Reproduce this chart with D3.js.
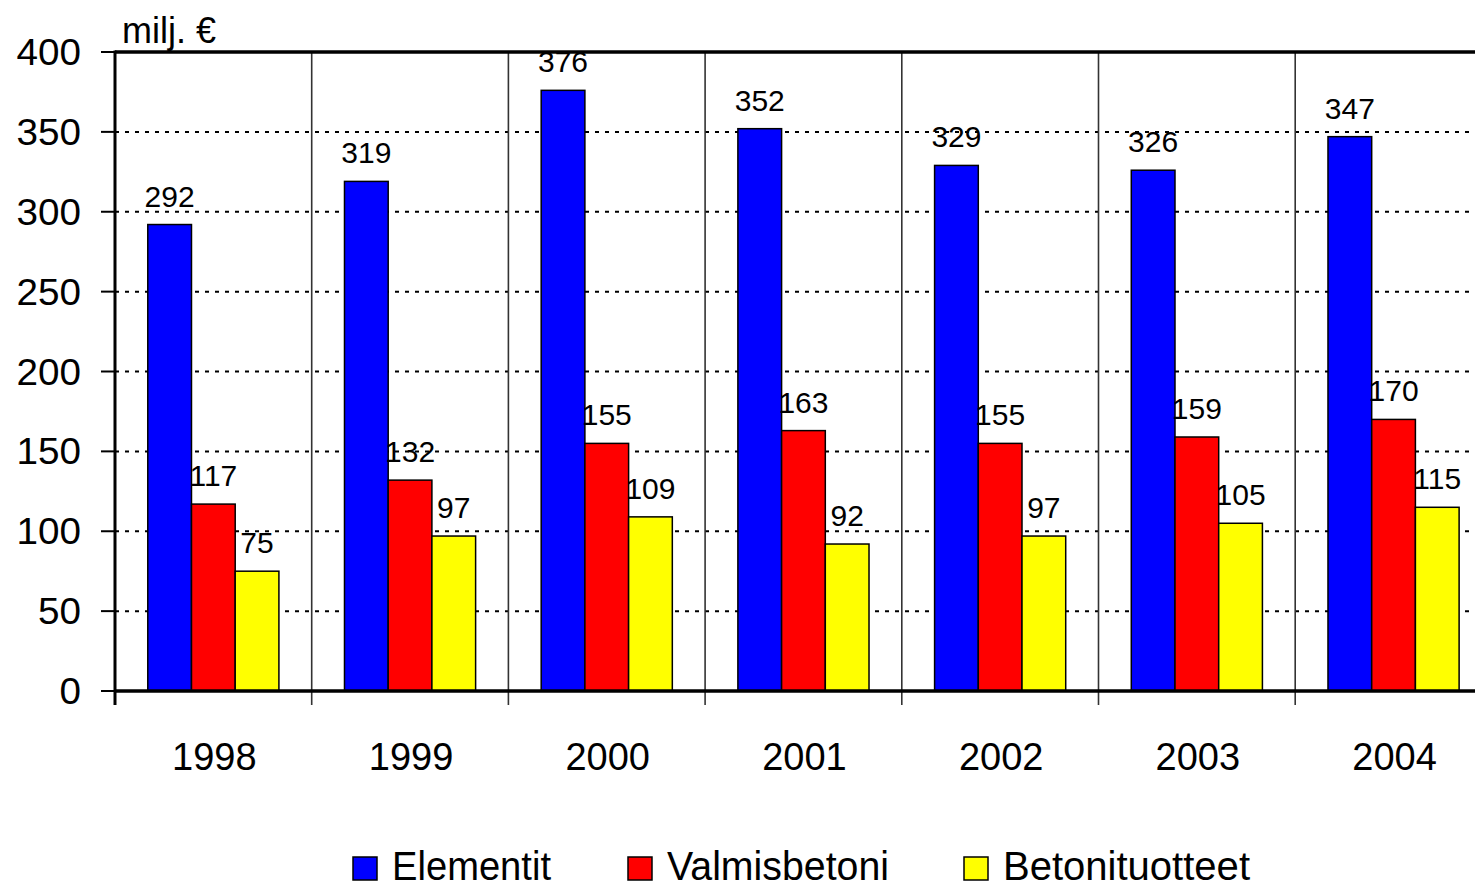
<!DOCTYPE html>
<html>
<head>
<meta charset="utf-8">
<script src="https://cdn.jsdelivr.net/npm/d3@7"></script>
<style>
  body { margin: 0; background: #fff; }
  svg { display: block; font-family: "Liberation Sans", Arial, sans-serif; }
</style>
</head>
<body>
<div id="chart"></div>
<script>
// data
const years = ["1998", "1999", "2000", "2001", "2002", "2003", "2004"];
const seriesNames = ["Elementit", "Valmisbetoni", "Betonituotteet"];
const elementit = [292, 319, 376, 352, 329, 326, 347];
const valmisbetoni = [117, 132, 155, 163, 155, 159, 170];
const betonituotteet = [75, 97, 109, 92, 97, 105, 115];
const yTicks = [0, 50, 100, 150, 200, 250, 300, 350, 400];
const colors = ["#0000ff", "#ff0000", "#ffff00"];

const svgWidth = 1475;
const svgHeight = 889;

const margin = { top: 52, left: 115 };
const plotBottom = 691;
const bandWidth = 196.7;

const svg = d3.select("#chart")
    .append("svg")
    .attr("width", svgWidth)
    .attr("height", svgHeight);

const xScale = d3.scaleBand()
    .domain(years)
    .range([margin.left, margin.left + bandWidth * years.length])
    .paddingInner(0)
    .paddingOuter(0);

const xInner = d3.scaleBand()
    .domain(seriesNames)
    .range([bandWidth / 6, bandWidth * 5 / 6]);

const yScale = d3.scaleLinear()
    .domain([0, 400])
    .range([plotBottom, margin.top]);

const plotRight = margin.left + bandWidth * years.length;

// dotted horizontal gridlines
svg.append("g")
    .selectAll("line")
    .data(yTicks.filter(d => d > 0 && d < 400))
    .enter()
    .append("line")
    .attr("x1", margin.left)
    .attr("x2", plotRight)
    .attr("y1", d => yScale(d))
    .attr("y2", d => yScale(d))
    .attr("stroke", "#000")
    .attr("stroke-width", 2)
    .attr("stroke-dasharray", "4,6");

// vertical category separators (with ticks below axis)
const bounds = years.slice(1).map(y => xScale(y));
svg.append("g")
    .selectAll("line")
    .data(bounds)
    .enter()
    .append("line")
    .attr("x1", d => d)
    .attr("x2", d => d)
    .attr("y1", margin.top)
    .attr("y2", plotBottom + 14)
    .attr("stroke", "#333")
    .attr("stroke-width", 1.6);

// bars
const seriesData = [elementit, valmisbetoni, betonituotteet];
const barData = [];
years.forEach((yr, i) => {
    seriesNames.forEach((s, j) => {
        barData.push({ year: yr, series: s, value: seriesData[j][i], color: colors[j] });
    });
});

svg.append("g")
    .selectAll("rect")
    .data(barData)
    .enter()
    .append("rect")
    .attr("x", d => xScale(d.year) + xInner(d.series))
    .attr("y", d => yScale(d.value))
    .attr("width", xInner.bandwidth())
    .attr("height", d => yScale(0) - yScale(d.value))
    .attr("fill", d => d.color)
    .attr("stroke", "#000")
    .attr("stroke-width", 1.5);

// value labels
svg.append("g")
    .selectAll("text")
    .data(barData)
    .enter()
    .append("text")
    .attr("x", d => xScale(d.year) + xInner(d.series) + xInner.bandwidth() / 2)
    .attr("y", d => yScale(d.value) - 18)
    .attr("text-anchor", "middle")
    .style("font-size", "30px")
    .text(d => d.value);

// axes lines
svg.append("line")
    .attr("x1", margin.left).attr("x2", plotRight)
    .attr("y1", margin.top).attr("y2", margin.top)
    .attr("stroke", "#000").attr("stroke-width", 3.5);

svg.append("line")
    .attr("x1", margin.left).attr("x2", plotRight)
    .attr("y1", plotBottom).attr("y2", plotBottom)
    .attr("stroke", "#000").attr("stroke-width", 3.5);

svg.append("line")
    .attr("x1", margin.left).attr("x2", margin.left)
    .attr("y1", margin.top - 1.5).attr("y2", plotBottom + 14)
    .attr("stroke", "#000").attr("stroke-width", 3);

// y ticks
svg.append("g")
    .selectAll("line")
    .data(yTicks)
    .enter()
    .append("line")
    .attr("x1", margin.left - 14)
    .attr("x2", margin.left)
    .attr("y1", d => yScale(d))
    .attr("y2", d => yScale(d))
    .attr("stroke", "#000")
    .attr("stroke-width", 2);

svg.append("g")
    .selectAll("text")
    .data(yTicks)
    .enter()
    .append("text")
    .attr("x", 81)
    .attr("y", d => yScale(d) + 13)
    .attr("text-anchor", "end")
    .attr("textLength", d => String(d).length * 21.5)
    .attr("lengthAdjust", "spacingAndGlyphs")
    .style("font-size", "37px")
    .text(d => d);

// x labels
svg.append("g")
    .selectAll("text")
    .data(years)
    .enter()
    .append("text")
    .attr("x", d => xScale(d) + bandWidth / 2 + 1)
    .attr("y", 770)
    .attr("text-anchor", "middle")
    .style("font-size", "38px")
    .text(d => d);

// unit label
svg.append("text")
    .attr("x", 122)
    .attr("y", 43)
    .style("font-size", "36px")
    .text("milj. €");

// legend
const legendX = [353, 628, 964];
const legendW = [159, 222, 247];
const legend = svg.append("g")
    .selectAll("g")
    .data(seriesNames)
    .enter()
    .append("g")
    .attr("transform", (d, i) => `translate(${legendX[i]}, 857)`);

legend.append("rect")
    .attr("width", 24)
    .attr("height", 23)
    .attr("fill", (d, i) => colors[i])
    .attr("stroke", "#000")
    .attr("stroke-width", 1.5);

legend.append("text")
    .attr("x", 39)
    .attr("y", 23)
    .attr("textLength", (d, i) => legendW[i])
    .attr("lengthAdjust", "spacingAndGlyphs")
    .style("font-size", "40px")
    .text(d => d);
</script>
</body>
</html>
